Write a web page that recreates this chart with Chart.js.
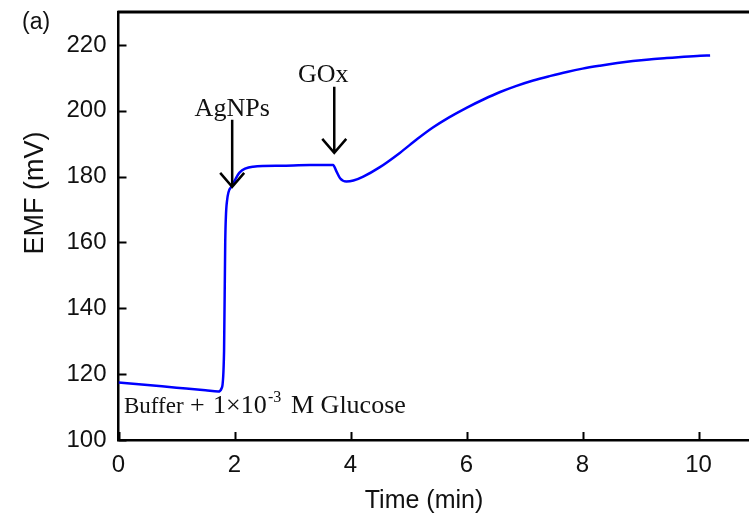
<!DOCTYPE html>
<html>
<head>
<meta charset="utf-8">
<script src="https://cdn.jsdelivr.net/npm/chart.js@4"></script>
<style>
  html, body { margin: 0; padding: 0; background: #fff; overflow: hidden; }
  #wrap { width: 749px; height: 517px; overflow: hidden; }
</style>
</head>
<body>
<div id="wrap"><canvas id="myChart" width="760" height="517"></canvas></div>
<script>
// time (min) and EMF (mV)
const timeMin = [0, 0.5, 1.0, 1.5, 1.72, 1.78, 1.82, 1.84, 1.87, 1.95, 2.09, 2.32, 2.8, 3.3, 3.70, 3.76,
  3.82, 3.93, 4.05, 4.22, 4.5, 4.85, 5.15, 5.42, 5.7, 6.0, 6.3, 6.58, 6.85, 7.15, 7.45, 7.73, 8.0,
  8.3, 8.6, 8.87, 9.15, 9.45, 9.75, 10.03, 10.2];
const emf = [117.5, 116.7, 115.9, 115.1, 114.7, 115.8, 127, 160, 172.5, 177, 181.3, 183, 183.3, 183.5, 183.5, 181.5,
  179.5, 178.5, 178.8, 180, 182.8, 187.2, 191.4, 194.9, 198, 200.9, 203.5, 205.7, 207.5, 209.2, 210.6, 211.8, 212.8,
  213.7, 214.5, 215.1, 215.6, 216, 216.4, 216.7, 216.8];

// arrows: where reagents were added
const arrowLabels = ["AgNPs", "GOx"];
const arrowTime = [1.96, 3.72];
const arrowTop = [197.3, 207.3];
const arrowTip = [176.9, 187.2];
const labelTime = [1.96, 3.53];
const labelEmf = [198.4, 208.6];

const xTicks = [0, 2, 4, 6, 8, 10];
const yTicks = [100, 120, 140, 160, 180, 200, 220];

const sans = "'Liberation Sans', Arial, sans-serif";
const serif = "'Liberation Serif', 'Times New Roman', serif";

const extras = {
  id: "extras",
  afterDraw(chart) {
    const { ctx, chartArea, scales } = chart;
    const x = scales.x, y = scales.y;
    ctx.save();
    ctx.strokeStyle = "#000";
    ctx.fillStyle = "#111";

    // top frame line
    ctx.lineWidth = 3;
    ctx.beginPath();
    ctx.moveTo(chartArea.left - 1, chartArea.top);
    ctx.lineTo(chartArea.right + 5, chartArea.top);
    ctx.stroke();

    // inward ticks
    ctx.lineWidth = 2;
    ctx.beginPath();
    xTicks.forEach((t) => {
      const px = Math.round(x.getPixelForValue(t)) + 0.5;
      ctx.moveTo(px, chartArea.bottom);
      ctx.lineTo(px, chartArea.bottom - 8);
    });
    yTicks.forEach((t) => {
      const py = Math.round(y.getPixelForValue(t)) + 0.5;
      ctx.moveTo(chartArea.left, py);
      ctx.lineTo(chartArea.left + 8, py);
    });
    ctx.stroke();

    // arrows with open heads
    ctx.lineWidth = 2.5;
    arrowTime.forEach((t, i) => {
      const px = x.getPixelForValue(t);
      const top = y.getPixelForValue(arrowTop[i]);
      const tip = y.getPixelForValue(arrowTip[i]);
      ctx.beginPath();
      ctx.moveTo(px, top);
      ctx.lineTo(px, tip);
      ctx.moveTo(px - 12, tip - 14);
      ctx.lineTo(px, tip);
      ctx.lineTo(px + 12, tip - 14);
      ctx.stroke();
    });

    // arrow labels
    ctx.font = "26px " + serif;
    ctx.textAlign = "center";
    ctx.textBaseline = "alphabetic";
    arrowLabels.forEach((s, i) => {
      ctx.fillText(s, x.getPixelForValue(labelTime[i]), y.getPixelForValue(labelEmf[i]));
    });

    // condition note
    ctx.textAlign = "left";
    ctx.font = "23px " + serif;
    ctx.fillText("Buffer", 124, 413);
    ctx.font = "26px " + serif;
    ctx.fillText("+", 190, 413);
    ctx.fillText("1\u00d710", 213, 413);
    ctx.font = "16px " + serif;
    ctx.fillText("-3", 268, 402);
    ctx.font = "26px " + serif;
    ctx.fillText("M Glucose", 291, 413);

    // panel label
    ctx.font = "23px " + sans;
    ctx.fillText("(a)", 22, 29);

    // axis titles
    ctx.textAlign = "center";
    ctx.font = "25px " + sans;
    ctx.fillText("Time (min)", 424, 508);
    ctx.save();
    ctx.translate(43, 193);
    ctx.rotate(-Math.PI / 2);
    ctx.font = "27px " + sans;
    ctx.fillText("EMF (mV)", 0, 0);
    ctx.restore();

    ctx.restore();
  },
};

new Chart(document.getElementById("myChart"), {
  type: "line",
  data: {
    labels: timeMin,
    datasets: [
      {
        data: timeMin.map((t, i) => ({ x: t, y: emf[i] })),
        borderColor: "#0000ff",
        borderWidth: 2.5,
        pointRadius: 0,
        fill: false,
        cubicInterpolationMode: "monotone",
      },
    ],
  },
  options: {
    responsive: false,
    animation: false,
    layout: { padding: { top: 12, right: 3.5, left: 0, bottom: 0 } },
    plugins: { legend: { display: false }, tooltip: { enabled: false } },
    scales: {
      x: {
        type: "linear",
        min: 0,
        max: 11,
        grid: { display: false, drawTicks: false },
        border: { display: true, color: "#000", width: 2.5 },
        afterFit(scale) {
          scale.height = 77;
          scale.paddingLeft = 0;
          scale.paddingRight = 0;
        },
        ticks: {
          stepSize: 2,
          includeBounds: false,
          padding: 11,
          color: "#111",
          font: { family: sans, size: 24 },
        },
      },
      y: {
        min: 100,
        max: 230,
        grid: { display: false, drawTicks: false },
        border: { display: true, color: "#000", width: 2.5 },
        afterFit(scale) {
          scale.width = 118.5;
          scale.paddingTop = 0;
          scale.paddingBottom = 0;
        },
        ticks: {
          stepSize: 20,
          includeBounds: false,
          padding: 12,
          color: "#111",
          font: { family: sans, size: 24 },
        },
      },
    },
  },
  plugins: [extras],
});
</script>
</body>
</html>
